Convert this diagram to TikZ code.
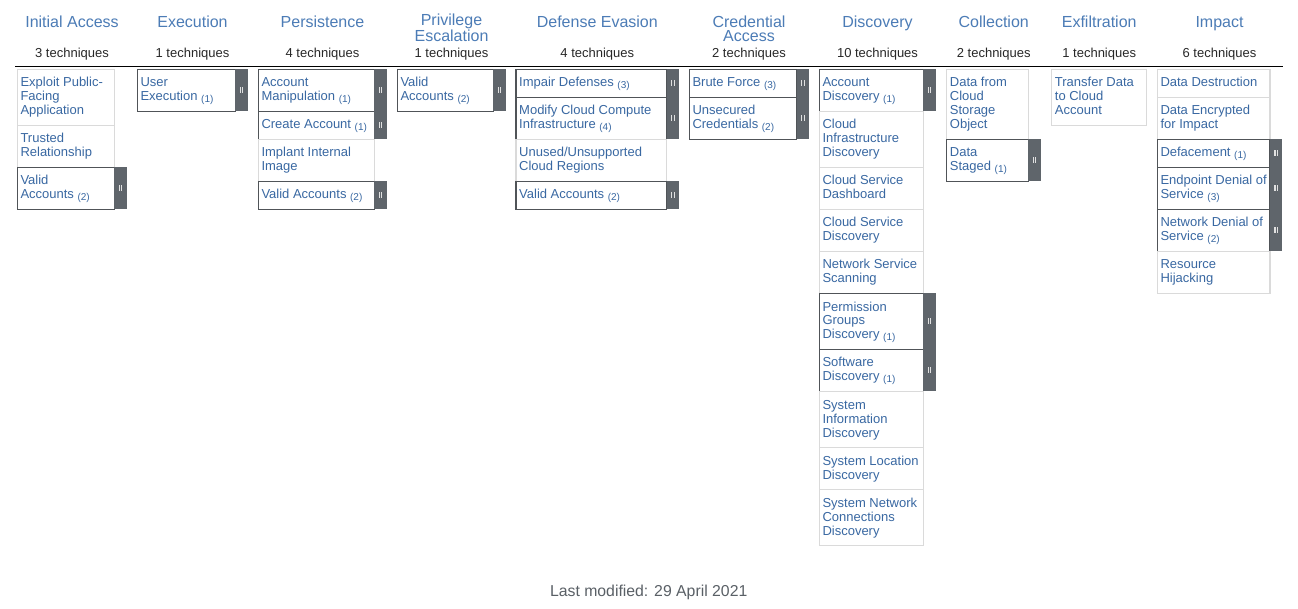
\documentclass[tikz,border=0pt]{standalone}
\usepackage{fontspec}
\setmainfont{Liberation Sans}
\definecolor{linkblue}{RGB}{57,104,162}
\definecolor{headblue}{RGB}{76,124,182}
\definecolor{cellgray}{RGB}{218,218,218}
\definecolor{subborder}{RGB}{80,84,88}
\definecolor{barcol}{RGB}{95,101,107}
\definecolor{iconcol}{RGB}{225,225,225}
\definecolor{countcol}{RGB}{40,40,40}
\definecolor{footcol}{RGB}{90,96,102}
\newcommand{\subn}[1]{ \raisebox{-1.5pt}{\fontsize{10}{10}\selectfont(#1)}}
\tikzset{
  techbox/.style={draw=cellgray, line width=1.2pt, fill=white, anchor=north west, inner sep=0pt, outer sep=0pt},
  subbox/.style={draw=subborder, line width=1.2pt, fill=white, anchor=north west, inner sep=0pt, outer sep=0pt},
  barbox/.style={fill=barcol, anchor=north west, inner sep=0pt, outer sep=0pt, minimum width=12.4pt},
  celltext/.style={anchor=north west, inner sep=0pt, align=left, text=linkblue, font=\fontsize{13}{14}\selectfont},
  header/.style={anchor=base, inner sep=0pt, align=center, text=headblue, font=\fontsize{16}{14}\selectfont},
  countlbl/.style={anchor=base, inner sep=0pt, text=countcol, font=\fontsize{13}{14}\selectfont},
  footer/.style={anchor=base, inner sep=0pt, text=footcol, font=\fontsize{15.8}{16}\selectfont},
  icon/.style={fill=iconcol},
  rule/.style={draw=black, line width=1.2pt},
}
% name, left, top, width, height, text
\newcommand{\plaincell}[6]{%
  \node[techbox, minimum width=#4pt, minimum height=#5pt] (#1) at (#2,#3) {};
  \node[celltext] (#1-t) at ([xshift=3pt,yshift=-7.7pt]#1.north west) {\strut #6};
}
\newcommand{\subcell}[6]{%
  \node[subbox, minimum width=#4pt, minimum height=#5pt] (#1) at (#2,#3) {};
  \node[barbox, minimum height=#5pt] (#1-bar) at (#1.north east) {};
  \fill[icon] ([xshift=-1.8pt,yshift=-3pt]#1-bar.center) rectangle ([xshift=-0.6pt,yshift=3pt]#1-bar.center);
  \fill[icon] ([xshift=0.6pt,yshift=-3pt]#1-bar.center) rectangle ([xshift=1.8pt,yshift=3pt]#1-bar.center);
  \node[celltext] (#1-t) at ([xshift=3pt,yshift=-7.7pt]#1.north west) {\strut #6};
}
\begin{document}
\begin{tikzpicture}[x=1pt,y=-1pt]
\useasboundingbox[fill=white] (0,0) rectangle (1298,609);
% headers
\node[header] (h1) at (72,27.3) {Initial Access};
\node[header] (h2) at (192.5,27.3) {Execution};
\node[header] (h3) at (322.5,27.3) {Persistence};
\node[header] (h4) at (451.5,41.3) {Privilege\\Escalation};
\node[header] (h5) at (597.3,27.3) {Defense Evasion};
\node[header] (h6) at (749,41.3) {Credential\\Access};
\node[header] (h7) at (877.5,27.3) {Discovery};
\node[header] (h8) at (993.7,27.3) {Collection};
\node[header] (h9) at (1099.2,27.3) {Exfiltration};
\node[header] (h10) at (1219.5,27.3) {Impact};
% counts
\node[countlbl] (c1) at (72,57.7) {3 techniques};
\node[countlbl] (c2) at (192.5,57.7) {1 techniques};
\node[countlbl] (c3) at (322.5,57.7) {4 techniques};
\node[countlbl] (c4) at (451.5,57.7) {1 techniques};
\node[countlbl] (c5) at (597.3,57.7) {4 techniques};
\node[countlbl] (c6) at (749,57.7) {2 techniques};
\node[countlbl] (c7) at (877.5,57.7) {10 techniques};
\node[countlbl] (c8) at (993.7,57.7) {2 techniques};
\node[countlbl] (c9) at (1099.2,57.7) {1 techniques};
\node[countlbl] (c10) at (1219.5,57.7) {6 techniques};
% rule
\coordinate (rl) at (15,66.5);
\coordinate (rr) at (1283,66.5);
\draw[rule] (rl) -- (rr);
% Initial Access
\plaincell{ia1}{17.3}{69.3}{97}{56}{Exploit Public-\\Facing\\Application}
\plaincell{ia2}{17.3}{125.3}{97}{42}{Trusted\\Relationship}
\subcell{ia3}{17.3}{167.3}{97}{42}{Valid\\Accounts\subn{2}}
% Execution
\subcell{ex1}{137.3}{69.3}{98}{42}{User\\Execution\subn{1}}
% Persistence
\subcell{pe1}{258.3}{69.3}{116}{42}{Account\\Manipulation\subn{1}}
\subcell{pe2}{258.3}{111.3}{116}{28}{Create Account\subn{1}}
\plaincell{pe3}{258.3}{139.3}{116}{42}{Implant Internal\\Image}
\subcell{pe4}{258.3}{181.3}{116}{28}{Valid Accounts\subn{2}}
% Privilege Escalation
\subcell{pr1}{397.3}{69.3}{96}{42}{Valid\\Accounts\subn{2}}
% Defense Evasion
\subcell{de1}{516}{69.3}{150.7}{28}{Impair Defenses\subn{3}}
\subcell{de2}{516}{97.3}{150.7}{42}{Modify Cloud Compute\\Infrastructure\subn{4}}
\plaincell{de3}{516}{139.3}{150.7}{42}{Unused/Unsupported\\Cloud Regions}
\subcell{de4}{516}{181.3}{150.7}{28}{Valid Accounts\subn{2}}
% Credential Access
\subcell{ca1}{689.3}{69.3}{107.4}{28}{Brute Force\subn{3}}
\subcell{ca2}{689.3}{97.3}{107.4}{42}{Unsecured\\Credentials\subn{2}}
% Discovery
\subcell{di1}{819.3}{69.3}{104}{42}{Account\\Discovery\subn{1}}
\plaincell{di2}{819.3}{111.3}{104}{56}{Cloud\\Infrastructure\\Discovery}
\plaincell{di3}{819.3}{167.3}{104}{42}{Cloud Service\\Dashboard}
\plaincell{di4}{819.3}{209.3}{104}{42}{Cloud Service\\Discovery}
\plaincell{di5}{819.3}{251.3}{104}{42}{Network Service\\Scanning}
\subcell{di6}{819.3}{293.3}{104}{56}{Permission\\Groups\\Discovery\subn{1}}
\subcell{di7}{819.3}{349.3}{104}{42}{Software\\Discovery\subn{1}}
\plaincell{di8}{819.3}{391.3}{104}{56}{System\\Information\\Discovery}
\plaincell{di9}{819.3}{447.3}{104}{42}{System Location\\Discovery}
\plaincell{di10}{819.3}{489.3}{104}{56}{System Network\\Connections\\Discovery}
% Collection
\plaincell{co1}{946.7}{69.3}{81.6}{70}{Data from\\Cloud\\Storage\\Object}
\subcell{co2}{946.7}{139.3}{81.6}{42}{Data\\Staged\subn{1}}
% Exfiltration
\plaincell{xf1}{1051.7}{69.3}{95}{56}{Transfer Data\\to Cloud\\Account}
% Impact
\plaincell{im1}{1157.3}{69.3}{112.7}{28}{Data Destruction}
\plaincell{im2}{1157.3}{97.3}{112.7}{42}{Data Encrypted\\for Impact}
\subcell{im3}{1157.3}{139.3}{112.7}{28}{Defacement\subn{1}}
\subcell{im4}{1157.3}{167.3}{112.7}{42}{Endpoint Denial of\\Service\subn{3}}
\subcell{im5}{1157.3}{209.3}{112.7}{42}{Network Denial of\\Service\subn{2}}
\plaincell{im6}{1157.3}{251.3}{112.7}{42}{Resource\\Hijacking}
% footer
\node[footer] (foot) at (648.7,596) {Last modified: 29 April 2021};
\end{tikzpicture}
\end{document}
